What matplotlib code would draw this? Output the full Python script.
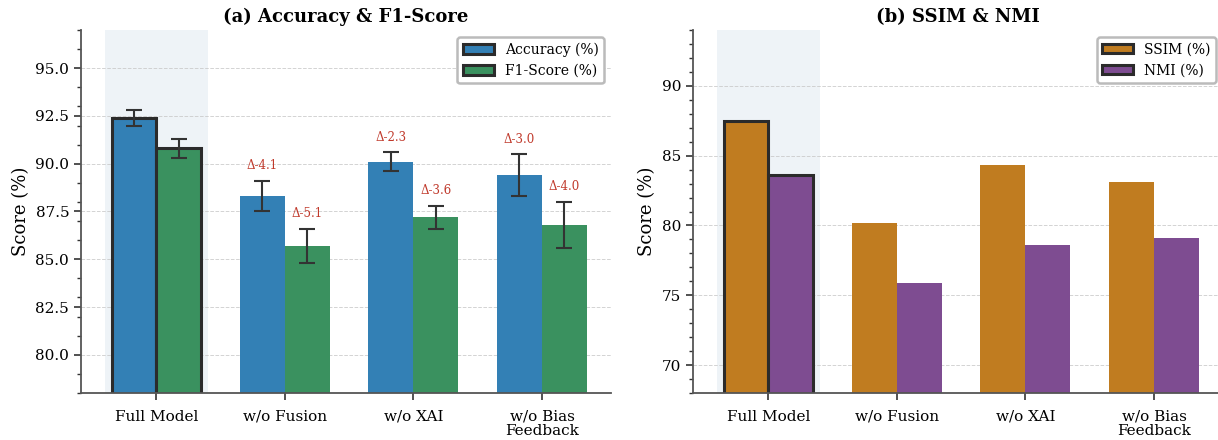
import numpy as np
import matplotlib
matplotlib.use('Agg')
import matplotlib.pyplot as plt
from matplotlib.ticker import MultipleLocator

plt.rcParams['font.family'] = 'serif'
plt.rcParams['font.serif'] = ['DejaVu Serif']

# ablation results
variants = ['Full Model', 'w/o Fusion', 'w/o XAI', 'w/o Bias\nFeedback']
accuracy = [92.4, 88.3, 90.1, 89.4]
accuracy_err = [0.4, 0.8, 0.5, 1.1]
f1_score = [90.8, 85.7, 87.2, 86.8]
f1_err = [0.5, 0.9, 0.6, 1.2]
ssim = [87.5, 80.2, 84.3, 83.1]
nmi = [83.6, 75.9, 78.6, 79.1]

x = np.arange(len(variants))
w = 0.35

fig = plt.figure(figsize=(12.18, 4.4), dpi=100)
ax1 = fig.add_axes([81/1218, 47/440, 530/1218, 363/440])
ax2 = fig.add_axes([693/1218, 47/440, 530/1218, 363/440])


def style(ax):
    ax.spines['top'].set_visible(False)
    ax.spines['right'].set_visible(False)
    for s in ['left', 'bottom']:
        ax.spines[s].set_color('#555555')
        ax.spines[s].set_linewidth(1.3)
    ax.yaxis.set_minor_locator(MultipleLocator(1))
    ax.tick_params(axis='both', which='major', length=5, width=1.2, color='#333333', labelsize=11)
    ax.tick_params(axis='x', pad=7)
    ax.tick_params(axis='y', which='minor', length=3, width=1.0, color='#333333')
    ax.grid(axis='y', linestyle='--', color='#c8c8c8', linewidth=0.7, alpha=0.8)
    ax.set_axisbelow(True)
    ax.axvspan(-0.4, 0.4, color='#e8eef5', alpha=0.7, zorder=0, lw=0)
    ax.set_xticks(x)
    ax.set_xticklabels(variants, linespacing=1.05)
    ax.set_ylabel('Score (%)', fontsize=13)


def highlight(bars):
    # outline the full model bar
    bars[0].set_edgecolor('#2b2b2b')
    bars[0].set_linewidth(2.2)


# (a) accuracy and F1
style(ax1)
err_kw = dict(ecolor='#333333', elinewidth=1.5, capthick=1.5)
b1 = ax1.bar(x - w/2, accuracy, w, yerr=accuracy_err, capsize=6, color='#3380b5',
             label='Accuracy (%)', error_kw=err_kw, zorder=2)
b2 = ax1.bar(x + w/2, f1_score, w, yerr=f1_err, capsize=6, color='#3a915f',
             label='F1-Score (%)', error_kw=err_kw, zorder=2)
highlight(b1)
highlight(b2)

for i in range(1, len(variants)):
    ax1.text(x[i] - w/2, accuracy[i] + accuracy_err[i] + 0.45,
             'Δ-%.1f' % (accuracy[0] - accuracy[i]), ha='center', va='bottom',
             fontsize=8.5, color='#c0392b')
    ax1.text(x[i] + w/2, f1_score[i] + f1_err[i] + 0.45,
             'Δ-%.1f' % (f1_score[0] - f1_score[i]), ha='center', va='bottom',
             fontsize=8.5, color='#c0392b')

ax1.set_ylim(78, 97)
ax1.set_yticks([80.0, 82.5, 85.0, 87.5, 90.0, 92.5, 95.0])
ax1.set_yticklabels(['80.0', '82.5', '85.0', '87.5', '90.0', '92.5', '95.0'])
ax1.set_title('(a) Accuracy & F1-Score', fontsize=13, fontweight='bold', pad=6)
leg = ax1.legend(loc='upper right', fontsize=10, frameon=True, fancybox=True,
                 edgecolor='#bbbbbb', framealpha=1.0, borderpad=0.4,
                 handlelength=2.2)
leg.get_frame().set_linewidth(1.8)

# (b) SSIM and NMI
style(ax2)
b3 = ax2.bar(x - w/2, ssim, w, color='#c07c20', label='SSIM (%)', zorder=2)
b4 = ax2.bar(x + w/2, nmi, w, color='#7e4c91', label='NMI (%)', zorder=2)
highlight(b3)
highlight(b4)
ax2.set_ylim(68, 94)
ax2.set_yticks([70, 75, 80, 85, 90])
ax2.set_title('(b) SSIM & NMI', fontsize=13, fontweight='bold', pad=6)
leg = ax2.legend(loc='upper right', fontsize=10, frameon=True, fancybox=True,
                 edgecolor='#bbbbbb', framealpha=1.0, borderpad=0.4,
                 handlelength=2.2)
leg.get_frame().set_linewidth(1.8)

for ax in (ax1, ax2):
    ax.set_xlim(-0.5875, 3.5375)

fig.savefig('out.png', dpi=100)
